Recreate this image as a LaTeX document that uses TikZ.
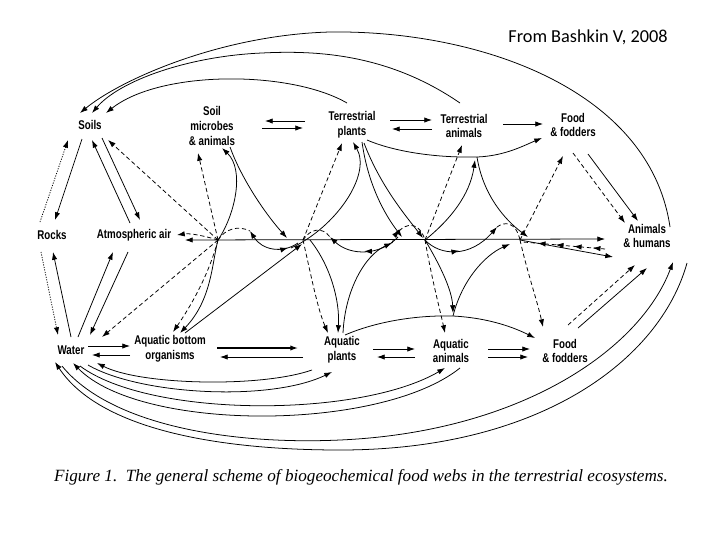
\documentclass[tikz,border=0pt]{standalone}
\usepackage{fontspec}
\usepackage{tikz}
\usetikzlibrary{arrows.meta,calc,decorations.markings}
\newfontfamily\nodefam[FakeStretch=0.77]{Liberation Sans}
\newfontfamily\capfam{Liberation Serif}
\newfontfamily\srcfam{Carlito}
\newcommand{\nodefont}{\nodefam\bfseries\fontsize{9}{10.5}\selectfont}

\begin{document}
\begin{tikzpicture}[x=0.025cm,y=-0.025cm,
    every node/.style={font=\nodefont,align=center,inner sep=1pt},
    ln/.style={line width=0.55pt},
    fl/.style={ln,-{Latex[length=5.5pt,width=3.8pt]}},
    bfl/.style={ln,{Latex[length=5.5pt,width=3.8pt]}-{Latex[length=5.5pt,width=3.8pt]}},
    dfl/.style={fl,dash pattern=on 3pt off 2pt},
    dtl/.style={fl,dash pattern=on 0.8pt off 1pt},
    dsh/.style={ln,dash pattern=on 3pt off 2pt},
    fwd/.style={postaction={decorate,decoration={markings,
        mark=at position #1 with {\arrow{Latex[length=5.5pt,width=3.8pt]}}}}},
    bwd/.style={postaction={decorate,decoration={markings,
        mark=at position #1 with {\arrowreversed{Latex[length=5.5pt,width=3.8pt]}}}}}]
  \fill[white] (0,0) rectangle (720,540);
  \useasboundingbox (0,0) rectangle (720,540);

  \node (soil) at (90,125) {Soils};
  \node (mic) at (212,126) {Soil\\microbes\\\& animals};
  \node (tpl) at (352,125) {Terrestrial\\plants};
  \node (tan) at (464,126) {Terrestrial\\animals};
  \node (fd1) at (573,125) {Food\\\& fodders};
  \node (rock) at (52,235) {Rocks};
  \node (air) at (134,235) {Atmospheric air};
  \node (ah) at (647,236) {Animals\\\& humans};
  \node (wat) at (71,350) {Water};
  \node (abo) at (170,349) {Aquatic bottom\\organisms};
  \node (apl) at (342,350) {Aquatic\\plants};
  \node (aan) at (451,351) {Aquatic\\animals};
  \node (fd2) at (565,351) {Food\\\& fodders};
  \node[font=\capfam\itshape\fontsize{12.2}{14}\selectfont] (cap) at (361,477)
    {Figure 1.\ \ The general scheme of biogeochemical food webs in the terrestrial ecosystems.};
  \node[font=\srcfam\fontsize{13}{15}\selectfont] (src) at (588,37) {From Bashkin V, 2008};

  \coordinate (x1) at (218,240);
  \coordinate (x2) at (303,240);
  \coordinate (x3) at (425,240);
  \coordinate (x4) at (520,240);
  \coordinate (j1) at (477,157);
  \coordinate (j2) at (453,316);

  % arcs over the top
  \draw[fl] ($(ah)+(23,-9)$) .. controls (650,90) and (480,30) .. (330,32)
    .. controls (220,35) and (120,80) .. ($(soil)+(-10,-12)$);
  \draw[fl] ($(tan)+(-4,-23)$) .. controls (390,55) and (320,50) .. (262,53)
    .. controls (190,56) and (120,80) .. ($(soil)+(2,-12)$);
  \draw[fl] ($(tpl)+(-5,-22)$) .. controls (290,70) and (160,70) .. ($(soil)+(16,-12)$);

  % top row
  \draw[fl] ($(tpl)+(-47,-4)$) -- ($(mic)+(53,-5)$);
  \draw[fl] ($(mic)+(50,2)$) -- ($(tpl)+(-49,3)$);
  \draw[fl] ($(tpl)+(38,-5)$) -- ($(tan)+(-32,-6)$);
  \draw[fl] ($(tan)+(-32,3)$) -- ($(tpl)+(40,4)$);
  \draw[fl] ($(tan)+(39,-2)$) -- ($(fd1)+(-30,-1)$);

  % bottom row
  \draw[fl] ($(wat)+(17,-4)$) -- ($(abo)+(-40,-3)$);
  \draw[fl] ($(abo)+(-40,6)$) -- ($(wat)+(21,5)$);
  \draw[fl,line width=0.9pt] ($(abo)+(47,-1)$) -- ($(apl)+(-44,-2)$);
  \draw[fl] ($(apl)+(-39,7)$) -- ($(abo)+(50,8)$);
  \draw[fl] ($(apl)+(31,-1)$) -- ($(aan)+(-36,-2)$);
  \draw[fl] ($(aan)+(-36,6)$) -- ($(apl)+(35,7)$);
  \draw[fl] ($(aan)+(37,-2)$) -- ($(fd2)+(-35,-2)$);
  \draw[fl] ($(aan)+(37,6)$) -- ($(fd2)+(-37,6)$);

  % left side
  \draw[dtl] ($(rock)+(-12,-13)$) -- ($(soil)+(-22,15)$);
  \draw[fl] ($(soil)+(-8,14)$) -- ($(rock)+(3,-15)$);
  \draw[fl] ($(air)+(-4,-12)$) -- ($(soil)+(2,15)$);
  \draw[fl] ($(soil)+(12,13)$) -- ($(air)+(6,-15)$);
  \draw[dfl] (x1) -- ($(soil)+(18,15)$);
  \draw[dtl] ($(rock)+(-11,17)$) -- ($(wat)+(-13,-15)$);
  \draw[fl] ($(wat)+(0,-13)$) -- ($(rock)+(1,17)$);
  \draw[fl] ($(wat)+(7,-13)$) -- ($(air)+(-21,17)$);
  \draw[fl] ($(air)+(-6,17)$) -- ($(wat)+(19,-15)$);
  \draw[dfl] (x1) -- ($(wat)+(31,-13)$);

  % the long line
  \draw[bfl] ($(air)+(51,5)$) -- ($(ah)+(-42,3)$);
  \draw[dfl] (x1) .. controls (205,236) and (190,233) .. ($(air)+(43,0)$);

  % soil microbes
  \draw[dfl] (x1) -- ($(mic)+(-14,27)$);
  \draw[bfl] ($(abo)+(10,-16)$) .. controls (212,300) and (212,262) .. (x1)
    .. controls (235,215) and (245,170) .. ($(mic)+(10,22)$);
  \draw[fl] ($(mic)+(18,21)$) .. controls (240,175) and (262,210) .. ($(x2)+(-16,-2)$);
  \draw[dfl] (x1) .. controls (210,270) and (195,300) .. ($(abo)+(3,-17)$);
  \draw[fl] ($(abo)+(15,-16)$) -- ($(x2)+(-1,4)$);

  % terrestrial plants
  \draw[dfl] (x2) -- ($(tpl)+(-10,18)$);
  \draw[fl] ($(x2)+(-12,8)$) .. controls (335,228) and (372,175) .. ($(tpl)+(1,17)$);
  \draw[fl] ($(tpl)+(10,17)$) .. controls (368,185) and (385,215) .. ($(x3)+(-23,-3)$);
  \draw[fl] ($(tpl)+(12,18)$) .. controls (380,185) and (405,215) .. ($(x3)+(-2,-2)$);
  \draw[fl] ($(tpl)+(15,15)$) .. controls (390,150) and (430,158) .. (j1)
    .. controls (505,156) and (525,145) .. ($(fd1)+(-31,13)$);

  % aquatic plants
  \draw[dfl] (x2) .. controls (312,280) and (318,310) .. ($(apl)+(-14,-17)$);
  \draw[fl] ($(x2)+(7,0)$) .. controls (330,265) and (340,300) .. ($(apl)+(-4,-17)$);
  \draw[fl] ($(apl)+(1,-17)$) .. controls (345,290) and (365,255) .. ($(x3)+(-33,3)$);
  \draw[fl] ($(apl)+(3,-15)$) .. controls (375,322) and (415,315) .. (j2)
    .. controls (490,318) and (515,328) .. ($(fd2)+(-30,-13)$);

  % terrestrial and aquatic animals
  \draw[dfl] (x3) -- ($(tan)+(-2,19)$);
  \draw[fl] (x3) .. controls (450,220) and (470,195) .. ($(j1)+(-2,3)$);
  \draw[fl] (j1) .. controls (483,195) and (505,220) .. ($(x4)+(8,-3)$);
  \draw[dfl] (x3) .. controls (432,280) and (440,310) .. ($(aan)+(-6,-18)$);
  \draw[fl] (x3) .. controls (440,265) and (452,290) .. ($(j2)+(0,-3)$);
  \draw[fl] (j2) .. controls (462,280) and (485,255) .. ($(x4)+(-10,4)$);

  % food and fodders
  \draw[dfl] (x4) -- ($(fd1)+(-10,31)$);
  \draw[dfl] ($(fd1)+(0,28)$) -- ($(ah)+(-22,-13)$);
  \draw[fl] ($(fd1)+(15,29)$) -- ($(ah)+(-9,-15)$);
  \draw[dfl] (x4) .. controls (528,275) and (537,300) .. ($(fd2)+(-22,-24)$);
  \draw[dfl] ($(fd2)+(3,-26)$) -- ($(ah)+(-12,29)$);
  \draw[fl] ($(fd2)+(13,-23)$) -- ($(ah)+(0,32)$);
  \draw[fl] (x4) -- ($(ah)+(-34,21)$);
  \draw[dsh,fwd=0.15,fwd=0.38,fwd=0.6,fwd=0.82] ($(ah)+(-42,13)$) -- ($(x4)+(3,2)$);

  % waves along the line
  \draw[dsh] (x1) .. controls (225,229) and (238,225) .. ($(x1)+(32,-9)$);
  \draw[fl,bwd=0.2] ($(x2)+(-5,3)$) .. controls (282,254) and (262,250) .. ($(x1)+(32,-9)$);
  \draw[dsh] (x2) .. controls (310,229) and (322,226) .. ($(x2)+(27,-3)$);
  \draw[fl,fwd=0.5] ($(x3)+(-27,-3)$) .. controls (380,256) and (350,256) .. ($(x2)+(27,-3)$);
  \draw[dsh,fwd=0.3] ($(x3)+(-33,3)$) .. controls (400,222) and (418,218) .. (x3);
  \draw[fl,fwd=0.45] (x3) .. controls (440,256) and (470,258) .. ($(x4)+(-23,-13)$);
  \draw[dsh] ($(x4)+(-23,-13)$) .. controls (505,221) and (516,222) .. (x4);

  % arcs under the bottom
  \draw[fl] ($(apl)+(-30,20)$) .. controls (260,388) and (140,385) .. ($(wat)+(26,13)$);
  \draw[fl] ($(wat)+(17,15)$) .. controls (140,395) and (270,402) .. ($(apl)+(-10,22)$);
  \draw[fl] ($(wat)+(9,16)$) .. controls (150,418) and (360,418) .. ($(aan)+(-6,17)$);
  \draw[fl] ($(aan)+(9,17)$) .. controls (380,432) and (140,432) .. ($(wat)+(2,13)$);
  \draw[fl] ($(wat)+(-9,16)$) .. controls (110,425) and (230,445) .. (340,440)
    .. controls (520,432) and (640,350) .. ($(ah)+(26,26)$);
  \draw[fl] ($(ah)+(40,27)$) .. controls (660,360) and (540,450) .. (340,450)
    .. controls (220,450) and (100,430) .. ($(wat)+(-16,12)$);
\end{tikzpicture}
\end{document}
